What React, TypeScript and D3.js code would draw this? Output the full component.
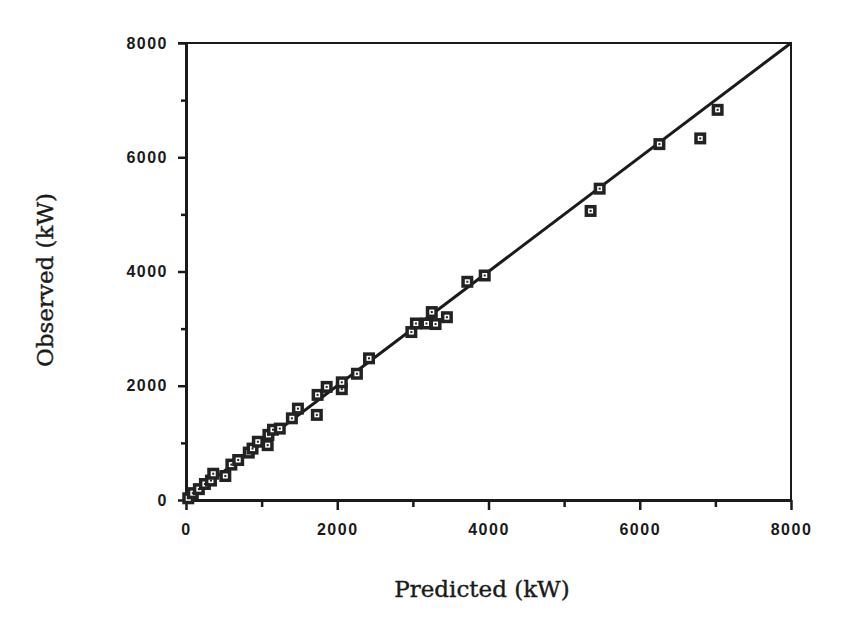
import React, { useEffect, useRef } from "react";
import * as d3 from "d3";

// predicted vs observed power, kW
const predicted = [
  30, 90, 170, 250, 330, 360, 520, 600, 690, 830, 880, 950, 1080, 1090, 1150,
  1240, 1400, 1480, 1730, 1740, 1860, 2060, 2060, 2260, 2420, 2980, 3040, 3180,
  3250, 3300, 3450, 3720, 3950, 5350, 5470, 6260, 6800, 7030,
];
const observed = [
  30, 120, 190, 280, 340, 460, 420, 620, 700, 830, 900, 1020, 960, 1140, 1230,
  1250, 1430, 1600, 1490, 1840, 1980, 1940, 2060, 2210, 2480, 2940, 3090, 3090,
  3290, 3080, 3200, 3820, 3930, 5060, 5450, 6230, 6330, 6830,
];
const majorTicks = [0, 2000, 4000, 6000, 8000];
const minorTicks = [1000, 3000, 5000, 7000];

const W = 854;
const H = 630;
const margin = { left: 186, right: 63, top: 43, bottom: 130 };

const App = () => {
  const svgRef = useRef<SVGSVGElement>(null);

  useEffect(() => {
    const svg = d3.select(svgRef.current);
    svg.selectAll("*").remove();

    const x = d3.scaleLinear().domain([0, 8000]).range([margin.left, W - margin.right]);
    const y = d3.scaleLinear().domain([0, 8000]).range([H - margin.bottom, margin.top]);
    const ink = "#1a1a1a";
    const tickFont = "'Liberation Sans', Arial, sans-serif";

    // frame: top and right edges
    svg
      .append("path")
      .attr("d", `M${x(0) - 8},${y(8000)}H${x(8000)}V${y(0)}`)
      .attr("fill", "none")
      .attr("stroke", ink)
      .attr("stroke-width", 2);

    const styleAxis = (g) => {
      g.select(".domain").attr("stroke", ink).attr("stroke-width", 3);
      g.selectAll(".tick line").attr("stroke", ink).attr("stroke-width", 2.5);
      g.selectAll(".tick text")
        .attr("fill", ink)
        .style("font-family", tickFont)
        .style("font-size", "16px")
        .style("font-weight", "bold")
        .style("letter-spacing", "1.5px");
    };

    // bottom axis
    svg
      .append("g")
      .attr("transform", `translate(0,${y(0)})`)
      .call(d3.axisBottom(x).tickValues(minorTicks).tickSize(7).tickSizeOuter(0).tickFormat(() => ""))
      .call(styleAxis);
    svg
      .append("g")
      .attr("transform", `translate(0,${y(0)})`)
      .call(d3.axisBottom(x).tickValues(majorTicks).tickSize(10).tickPadding(14).tickSizeOuter(0).tickFormat(d3.format("d")))
      .call(styleAxis);

    // left axis
    svg
      .append("g")
      .attr("transform", `translate(${x(0)},0)`)
      .call(d3.axisLeft(y).tickValues(minorTicks).tickSize(5).tickSizeOuter(0).tickFormat(() => ""))
      .call(styleAxis);
    svg
      .append("g")
      .attr("transform", `translate(${x(0)},0)`)
      .call(d3.axisLeft(y).tickValues(majorTicks).tickSize(8).tickPadding(10).tickSizeOuter(0).tickFormat(d3.format("d")))
      .call(styleAxis);

    // 1:1 line
    svg
      .append("line")
      .attr("x1", x(0))
      .attr("y1", y(0))
      .attr("x2", x(8000))
      .attr("y2", y(8000))
      .attr("stroke", ink)
      .attr("stroke-width", 3);

    const pts = predicted.map((p, i) => ({ p, o: observed[i] }));
    const marks = svg
      .append("g")
      .selectAll("g")
      .data(pts)
      .join("g")
      .attr("transform", (d) => `translate(${x(d.p)},${y(d.o)})`);
    marks.append("rect").attr("x", -6).attr("y", -6).attr("width", 12).attr("height", 12).attr("fill", "#222");
    marks.append("rect").attr("x", -2.5).attr("y", -2.5).attr("width", 5).attr("height", 5).attr("fill", "#fff");
    marks.append("rect").attr("x", -1).attr("y", -1).attr("width", 2).attr("height", 2).attr("fill", "#222");

    // axis titles
    const titleFont = "'DejaVu Serif', 'Liberation Serif', serif";
    svg
      .append("text")
      .attr("x", 482)
      .attr("y", 597)
      .attr("text-anchor", "middle")
      .attr("fill", ink)
      .attr("stroke", ink)
      .attr("stroke-width", 0.4)
      .style("font-family", titleFont)
      .style("font-size", "23px")
      .text("Predicted (kW)");
    svg
      .append("text")
      .attr("transform", `translate(53,280) rotate(-90)`)
      .attr("text-anchor", "middle")
      .attr("fill", ink)
      .attr("stroke", ink)
      .attr("stroke-width", 0.4)
      .style("font-family", titleFont)
      .style("font-size", "23px")
      .text("Observed (kW)");
  }, []);

  return (
    <div style={{ position: "absolute", left: 0, top: 0, background: "#fff" }}>
      <svg ref={svgRef} width={W} height={H} />
    </div>
  );
};

export default App;
